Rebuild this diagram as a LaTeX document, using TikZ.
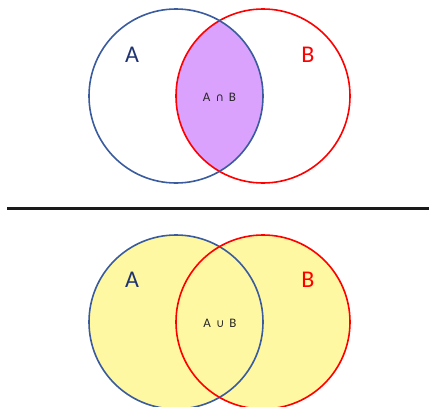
\documentclass[tikz,border=0pt]{standalone}
\usepackage{fontspec}
\setmainfont{Carlito}
\newfontfamily\symfont{DejaVu Sans}
\definecolor{setA}{HTML}{3A5C9E}
\definecolor{labA}{HTML}{1F3370}
\definecolor{setB}{HTML}{FF0000}
\definecolor{interfill}{HTML}{DAA2FC}
\definecolor{unionfill}{HTML}{FFF8A2}
\definecolor{rulecol}{HTML}{1A1A1A}
\tikzset{
  setcircle/.style={circle, minimum size=174pt, inner sep=0pt, line width=1.6pt},
  bigA/.style={text=labA, font=\fontsize{24}{24}\selectfont},
  bigB/.style={text=setB, font=\fontsize{24}{24}\selectfont},
  oplabel/.style={text=black!85, font=\fontsize{13}{13}\selectfont},
}
\newcommand{\opsym}[1]{\hspace{5pt}{\symfont\fontsize{11.5}{11.5}\selectfont #1}\hspace{5pt}}
\begin{document}
\begin{tikzpicture}[x=1pt,y=-1pt]
\useasboundingbox (0,0) rectangle (429,407);
% top: intersection
\begin{scope}
  \clip (176,96) circle (87);
  \fill[interfill] (263,96) circle (87);
\end{scope}
\node[setcircle, draw=setB] (B1) at (263,96) {};
\node[setcircle, draw=setA] (A1) at (176,96) {};
\node[bigA] (lA1) at (132,55) {A};
\node[bigB] (lB1) at (308,55) {B};
\node[oplabel] (op1) at (219.5,97) {A\opsym{∩}B};
% separator
\coordinate (s1) at (7,208.5);
\coordinate (s2) at (429,208.5);
\draw[rulecol, line width=2.4pt] (s1) -- (s2);
% bottom: union
\fill[unionfill] (176,322) circle (87);
\fill[unionfill] (263,322) circle (87);
\node[setcircle, draw=setA] (A2) at (176,322) {};
\node[setcircle, draw=setB] (B2) at (263,322) {};
\node[bigA] (lA2) at (132,280) {A};
\node[bigB] (lB2) at (308,280) {B};
\node[oplabel] (op2) at (220,323) {A\opsym{∪}B};
\end{tikzpicture}
\end{document}
